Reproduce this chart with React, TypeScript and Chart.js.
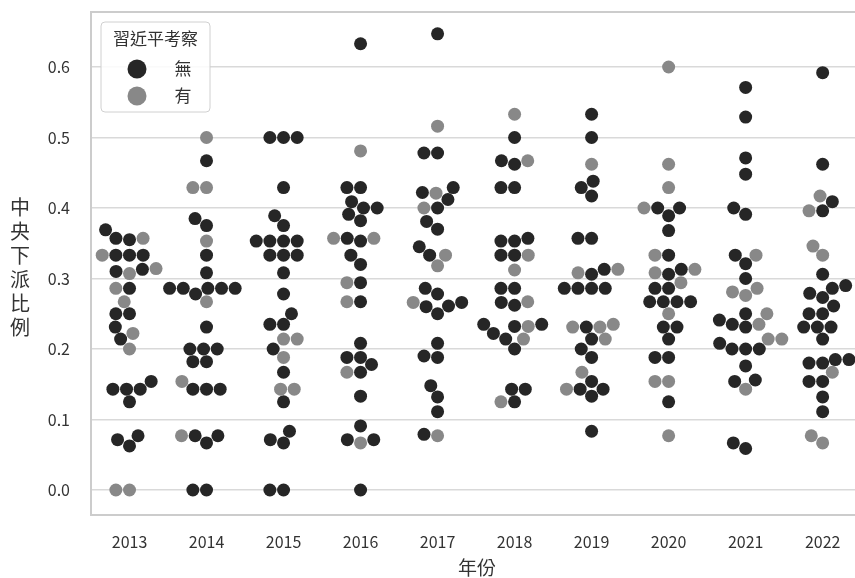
import { useEffect, useRef } from 'react';
import { Chart, registerables } from 'chart.js';

Chart.register(...registerables);

// Categories (years) on the x axis
const YEARS = ['2013', '2014', '2015', '2016', '2017', '2018', '2019', '2020', '2021', '2022'];

// 中央下派比例 per year, split by whether 習近平 made an inspection visit
const NO_VISIT: number[][] = [
  [0.0625, 0.0714, 0.0769, 0.125, 0.143, 0.143, 0.143, 0.154, 0.214, 0.231, 0.25, 0.25, 0.286, 0.31, 0.313, 0.333, 0.333, 0.333, 0.357, 0.355, 0.369],
  [0, 0, 0.0667, 0.0769, 0.0769, 0.143, 0.143, 0.143, 0.182, 0.182, 0.2, 0.2, 0.2, 0.231, 0.278, 0.286, 0.286, 0.286, 0.286, 0.286, 0.308, 0.333, 0.375, 0.385, 0.467],
  [0, 0, 0.0667, 0.0714, 0.0833, 0.125, 0.167, 0.2, 0.235, 0.235, 0.25, 0.278, 0.308, 0.333, 0.333, 0.333, 0.353, 0.353, 0.353, 0.353, 0.375, 0.389, 0.429, 0.5, 0.5, 0.5],
  [0, 0.0714, 0.0714, 0.0909, 0.133, 0.167, 0.178, 0.188, 0.188, 0.208, 0.267, 0.294, 0.32, 0.333, 0.353, 0.357, 0.382, 0.391, 0.4, 0.4, 0.409, 0.429, 0.429, 0.633],
  [0.0789, 0.111, 0.132, 0.148, 0.188, 0.19, 0.208, 0.25, 0.26, 0.261, 0.266, 0.278, 0.286, 0.333, 0.345, 0.37, 0.381, 0.4, 0.412, 0.422, 0.429, 0.478, 0.478, 0.647],
  [0.125, 0.143, 0.143, 0.2, 0.214, 0.222, 0.232, 0.235, 0.235, 0.262, 0.266, 0.286, 0.286, 0.333, 0.333, 0.353, 0.353, 0.357, 0.429, 0.429, 0.462, 0.467, 0.5],
  [0.0833, 0.133, 0.143, 0.143, 0.154, 0.188, 0.2, 0.214, 0.231, 0.286, 0.286, 0.286, 0.286, 0.306, 0.313, 0.357, 0.357, 0.417, 0.429, 0.438, 0.5, 0.533],
  [0.125, 0.188, 0.188, 0.214, 0.231, 0.231, 0.267, 0.267, 0.267, 0.267, 0.286, 0.286, 0.306, 0.313, 0.333, 0.368, 0.389, 0.4, 0.4],
  [0.0588, 0.0667, 0.154, 0.156, 0.176, 0.2, 0.2, 0.2, 0.208, 0.231, 0.235, 0.241, 0.25, 0.3, 0.321, 0.333, 0.391, 0.4, 0.448, 0.471, 0.529, 0.571],
  [0.111, 0.132, 0.154, 0.154, 0.18, 0.18, 0.185, 0.185, 0.214, 0.231, 0.231, 0.231, 0.25, 0.25, 0.261, 0.273, 0.279, 0.286, 0.29, 0.306, 0.396, 0.409, 0.462, 0.592],
];

const VISIT: number[][] = [
  [0, 0, 0.2, 0.222, 0.267, 0.286, 0.307, 0.314, 0.333, 0.357],
  [0.0769, 0.154, 0.267, 0.353, 0.429, 0.429, 0.5],
  [0.143, 0.143, 0.188, 0.214, 0.214],
  [0.0667, 0.167, 0.267, 0.294, 0.357, 0.357, 0.481],
  [0.0769, 0.266, 0.318, 0.333, 0.4, 0.421, 0.516],
  [0.125, 0.214, 0.232, 0.267, 0.312, 0.333, 0.467, 0.533],
  [0.143, 0.167, 0.214, 0.231, 0.231, 0.235, 0.308, 0.313, 0.462],
  [0.0769, 0.154, 0.154, 0.25, 0.294, 0.308, 0.313, 0.333, 0.4, 0.429, 0.462, 0.6],
  [0.143, 0.214, 0.214, 0.235, 0.25, 0.276, 0.281, 0.286, 0.333],
  [0.0667, 0.0769, 0.167, 0.333, 0.346, 0.396, 0.417],
];

const Y_TICKS = [0, 0.1, 0.2, 0.3, 0.4, 0.5, 0.6];

const LEGEND_TITLE = '習近平考察';
const HUE_LABELS = ['無', '有'];
const HUE_COLORS = ['#262626', '#888888'];
const Y_TITLE = '中央下派比例';
const X_TITLE = '年份';

const FONT = '"Noto Sans CJK TC", "Noto Sans CJK SC", "Noto Sans", sans-serif';
const TEXT_COLOR = '#333333';
const SPINE_COLOR = '#cccccc';
const DOT_R = 6.5;

// Beeswarm placement: points are placed from the lowest value upward, each at
// the candidate position nearest the category midline that does not collide.
function swarmOffsets(pys: number[], r: number): number[] {
  const n = pys.length;
  const order = Array.from({ length: n }, (_, i) => i).sort(
    (a, b) => pys[b] - pys[a] || a - b,
  );
  const placed: { x: number; y: number }[] = [];
  const out = new Array(n).fill(0);
  const sep = 4 * r * r;
  for (const i of order) {
    const y = pys[i];
    const nb: { x: number; y: number }[] = [];
    for (let k = placed.length - 1; k >= 0; k--) {
      if (placed[k].y - y < 2 * r) nb.push(placed[k]);
      else break;
    }
    nb.reverse();
    const cands: number[] = [0];
    let leftFirst = true;
    for (const p of nb) {
      const dy = y - p.y;
      const dx = Math.sqrt(Math.max(sep - dy * dy, 0)) * 1.05;
      if (leftFirst) cands.push(p.x - dx, p.x + dx);
      else cands.push(p.x + dx, p.x - dx);
      leftFirst = !leftFirst;
    }
    const sorted = cands
      .map((c, idx) => ({ c, idx }))
      .sort((a, b) => Math.abs(a.c) - Math.abs(b.c) || a.idx - b.idx)
      .map((o) => o.c);
    let chosen = sorted[0];
    for (const c of sorted) {
      if (nb.every((p) => (p.x - c) ** 2 + (p.y - y) ** 2 >= sep - 1e-6)) {
        chosen = c;
        break;
      }
    }
    placed.push({ x: chosen, y });
    out[i] = chosen;
  }
  return out;
}

// Spines (top, left, bottom) drawn over the grid
const framePlugin = {
  id: 'frame',
  beforeDatasetsDraw(chart: Chart) {
    const { ctx, chartArea: a } = chart;
    ctx.save();
    ctx.strokeStyle = SPINE_COLOR;
    ctx.lineWidth = 2;
    ctx.beginPath();
    ctx.moveTo(a.right, a.top);
    ctx.lineTo(a.left, a.top);
    ctx.lineTo(a.left, a.bottom);
    ctx.lineTo(a.right, a.bottom);
    ctx.stroke();
    ctx.restore();
  },
};

// Axis titles: vertical stacked characters on the left, centred title below
const titlesPlugin = {
  id: 'axisTitles',
  afterDraw(chart: Chart) {
    const { ctx, chartArea: a } = chart;
    ctx.save();
    ctx.fillStyle = TEXT_COLOR;
    ctx.textAlign = 'center';
    ctx.textBaseline = 'middle';
    ctx.font = `20px ${FONT}`;
    const chars = Array.from(Y_TITLE);
    const step = 24;
    const midY = 267;
    const startY = midY - ((chars.length - 1) * step) / 2;
    chars.forEach((ch, i) => ctx.fillText(ch, 20, startY + i * step));
    ctx.font = `19px ${FONT}`;
    ctx.fillText(X_TITLE, (a.left + a.right) / 2 + 4, 568);
    ctx.restore();
  },
};

// Legend box in the upper-left corner of the plot
const legendPlugin = {
  id: 'hueLegend',
  afterDatasetsDraw(chart: Chart) {
    const { ctx, chartArea: a } = chart;
    const x = a.left + 10;
    const y = a.top + 10;
    const w = 109;
    const h = 90;
    ctx.save();
    ctx.beginPath();
    ctx.roundRect(x, y, w, h, 4);
    ctx.fillStyle = 'rgba(255,255,255,0.85)';
    ctx.fill();
    ctx.strokeStyle = '#d0d0d0';
    ctx.lineWidth = 1;
    ctx.stroke();
    ctx.fillStyle = TEXT_COLOR;
    ctx.textBaseline = 'middle';
    ctx.textAlign = 'center';
    ctx.font = `17px ${FONT}`;
    ctx.fillText(LEGEND_TITLE, x + w / 2, y + 17);
    HUE_LABELS.forEach((label, i) => {
      const cy = y + 47 + i * 27;
      ctx.beginPath();
      ctx.arc(x + 36, cy, 9.5, 0, Math.PI * 2);
      ctx.fillStyle = HUE_COLORS[i];
      ctx.fill();
      ctx.fillStyle = TEXT_COLOR;
      ctx.fillText(label, x + 82, cy);
    });
    ctx.restore();
  },
};

export default function App() {
  const ref = useRef<HTMLCanvasElement>(null);

  useEffect(() => {
    const canvas = ref.current;
    if (!canvas) return;

    const points: { x: number; y: number }[] = [];
    const colors: string[] = [];
    const cats: number[] = [];
    YEARS.forEach((_, ci) => {
      NO_VISIT[ci].forEach((v) => {
        points.push({ x: ci, y: v });
        colors.push(HUE_COLORS[0]);
        cats.push(ci);
      });
      VISIT[ci].forEach((v) => {
        points.push({ x: ci, y: v });
        colors.push(HUE_COLORS[1]);
        cats.push(ci);
      });
    });

    const chart = new Chart(canvas, {
      type: 'scatter',
      data: {
        datasets: [
          {
            data: points,
            backgroundColor: colors,
            borderWidth: 0,
            pointRadius: DOT_R,
            pointHoverRadius: DOT_R,
          },
        ],
      },
      options: {
        responsive: false,
        animation: false,
        events: [],
        layout: { autoPadding: false, padding: { top: 12, left: 0, right: 0, bottom: 0 } },
        plugins: {
          legend: { display: false },
          tooltip: { enabled: false },
        },
        scales: {
          x: {
            type: 'linear',
            min: -0.5,
            max: 9.42,
            afterBuildTicks: (s: any) => {
              s.ticks = YEARS.map((_, i) => ({ value: i }));
            },
            afterFit: (s: any) => {
              s.height = 63;
              s.paddingLeft = 0;
              s.paddingRight = 0;
            },
            ticks: {
              callback: (v: any) => YEARS[Math.round(Number(v))] ?? '',
              autoSkip: false,
              maxRotation: 0,
              padding: 17,
              color: TEXT_COLOR,
              font: { family: FONT, size: 16 },
            },
            grid: { display: false, drawTicks: false },
            border: { display: false },
          },
          y: {
            min: -0.0355,
            max: 0.678,
            afterBuildTicks: (s: any) => {
              s.ticks = Y_TICKS.map((v) => ({ value: v }));
            },
            afterFit: (s: any) => {
              s.width = 91;
              s.paddingTop = 0;
              s.paddingBottom = 0;
            },
            ticks: {
              callback: (v: any) => Number(v).toFixed(1),
              padding: 21,
              color: TEXT_COLOR,
              font: { family: FONT, size: 16 },
            },
            grid: { color: '#d9d9d9', lineWidth: 1.5, drawTicks: false },
            border: { display: false },
          },
        },
      },
      plugins: [framePlugin, legendPlugin, titlesPlugin],
    });

    // Spread each year's points into a swarm using the chart's own scales
    const xs = chart.scales.x;
    const ys = chart.scales.y;
    const pxPerCat = xs.getPixelForValue(1) - xs.getPixelForValue(0);
    YEARS.forEach((_, ci) => {
      const idx = cats.map((c, i) => (c === ci ? i : -1)).filter((i) => i >= 0);
      const pys = idx.map((i) => ys.getPixelForValue(points[i].y));
      const off = swarmOffsets(pys, DOT_R);
      idx.forEach((i, k) => {
        points[i].x = ci + off[k] / pxPerCat;
      });
    });
    chart.update('none');

    return () => chart.destroy();
  }, []);

  return (
    <div style={{ position: 'absolute', left: 0, top: 0, width: 855, height: 578 }}>
      <canvas ref={ref} width={855} height={578} style={{ display: 'block' }} />
    </div>
  );
}
